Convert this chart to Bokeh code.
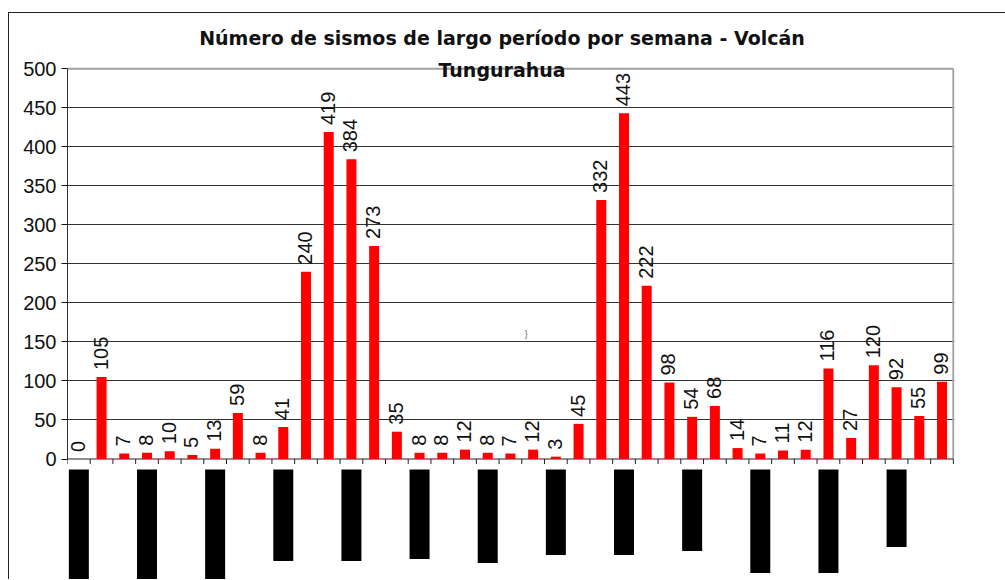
import numpy as np
from bokeh.plotting import figure
from bokeh.models import Range1d, FixedTicker, ColumnDataSource
from bokeh.core.properties import value
from bokeh.embed import file_html
from bokeh.resources import INLINE

# ---------------- data ----------------
weekly_lp_events = [0, 105, 7, 8, 10, 5, 13, 59, 8, 41, 240, 419, 384, 273, 35,
                    8, 8, 12, 8, 7, 12, 3, 45, 332, 443, 222, 98, 54, 68, 14,
                    7, 11, 12, 116, 27, 120, 92, 55, 99]
y_ticks = [0, 50, 100, 150, 200, 250, 300, 350, 400, 450, 500]
title_line1 = "Número de sismos de largo período por semana - Volcán"
title_line2 = "Tungurahua"
stray_mark = "}"

# date labels below the axis appear as solid black blocks (one every 3 weeks)
date_label_every = 3
date_label_lengths_px = [125, 125, 125, 102, 102, 100, 104, 96, 96, 92, 114, 114, 88]

# ---------------- geometry ----------------
FIG_W, FIG_H = 997, 567
FRAME_TOP_PAGE = 13.0          # page y of frame top
ZERO_PAGE = 458.5              # page y of value 0
PX_PER_UNIT = 390.2 / 500.0
n = len(weekly_lp_events)
x_end = n + 0.05
y_end = (ZERO_PAGE - FRAME_TOP_PAGE) / PX_PER_UNIT
y_start = y_end - FIG_H / PX_PER_UNIT


def px(v):
    return v / PX_PER_UNIT


def page_y(yp):
    return (ZERO_PAGE - yp) / PX_PER_UNIT


p = figure(width=FIG_W, height=FIG_H, output_backend="svg", toolbar_location=None,
           x_range=Range1d(0, x_end), y_range=Range1d(y_start, y_end),
           x_axis_location=None, min_border_left=58, min_border_right=52,
           min_border_top=0, min_border_bottom=0)
p.outline_line_color = None
p.background_fill_color = "white"
p.border_fill_color = "white"
p.margin = (12, 0, 0, 8)
p.styles = {"border-top": "1px solid #222", "border-left": "1px solid #222"}

# y axis
yax = p.yaxis[0]
yax.ticker = FixedTicker(ticks=y_ticks)
yax.bounds = (0, 500)
yax.axis_line_color = "#333333"
yax.major_tick_out = 6
yax.major_tick_in = 0
yax.minor_tick_line_color = None
yax.major_tick_line_color = "#111111"
yax.major_label_text_font = "Liberation Sans"
yax.major_label_text_font_size = "20px"
yax.major_label_text_color = "#111111"
yax.major_label_standoff = 5

p.xgrid.visible = False
p.ygrid.ticker = FixedTicker(ticks=y_ticks[1:-1])
p.ygrid.grid_line_color = "#333333"
p.ygrid.grid_line_width = 1

# plot-area top & right border (gray), baseline
p.segment(x0=[0, n], y0=[y_ticks[-1], 0], x1=[n, n], y1=[y_ticks[-1], y_ticks[-1]],
          line_color="#a0a0a0", line_width=2)
p.segment(x0=[0], y0=[0], x1=[n], y1=[0], line_color="#222222", line_width=1.2)

# category-boundary ticks
bx = np.arange(n + 1)
p.segment(x0=bx, y0=np.zeros(n + 1), x1=bx, y1=np.full(n + 1, -px(5)),
          line_color="#222222", line_width=1)

# bars
xs = np.arange(n) + 0.5
src = ColumnDataSource(dict(x=xs, top=weekly_lp_events,
                            lab=[str(v) for v in weekly_lp_events]))
p.vbar(x="x", top="top", bottom=0, width=0.44, source=src,
       fill_color="#ff0000", line_color=None)

# value labels, rotated
p.text(x="x", y="top", text="lab", source=src, angle=np.pi / 2,
       text_align="left", text_baseline="middle", x_offset=-1, y_offset=-7,
       text_font=value("Liberation Sans"), text_font_size="20px",
       text_color="#111111")

# date-label blocks
idx = np.arange(0, n, date_label_every)
bc = idx + 0.5
p.quad(left=bc - 0.44, right=bc + 0.44, top=np.full(len(idx), -px(10.5)),
       bottom=-px(np.array(date_label_lengths_px, dtype=float)),
       fill_color="black", line_color=None)

# stray mark
p.text(x=[20.2], y=[page_y(333)], text=[stray_mark], text_align="center",
       text_baseline="middle", text_font=value("Liberation Sans"),
       text_font_size="9px", text_color="#666666")

# title (two lines)
tx = (502 - 67) / 22.74
p.text(x=[tx, tx], y=[page_y(37), page_y(69)], text=[title_line1, title_line2],
       text_align="center", text_baseline="alphabetic",
       text_font=value("DejaVu Sans"), text_font_style="bold",
       text_font_size="19px", text_color="#111111")

open("out.html", "w").write(file_html(p, INLINE))
